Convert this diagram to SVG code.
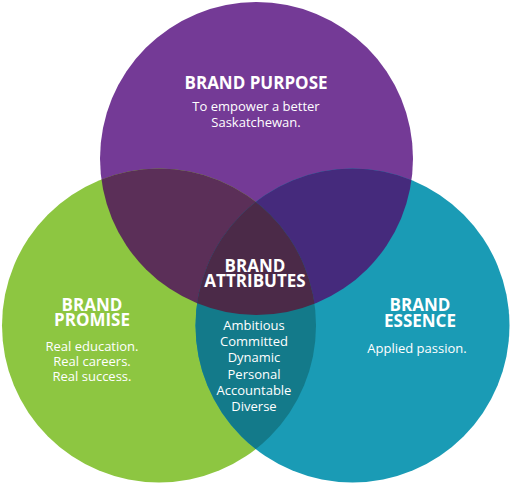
<svg xmlns="http://www.w3.org/2000/svg" width="513" height="498" viewBox="0 0 513 498">
<defs>
<clipPath id="cpP"><circle cx="256.5" cy="158.5" r="156.5"/></clipPath>
<clipPath id="cpG"><circle cx="159" cy="325.5" r="157"/></clipPath>
<clipPath id="cpT"><circle cx="352.5" cy="325.5" r="157"/></clipPath>
</defs>
<style>
.t{font-family:"Open Sans","Liberation Sans",sans-serif;fill:#ffffff;text-anchor:middle}
.h{font-weight:bold;font-size:17px}
.b{font-size:13px}
</style>
<rect width="513" height="498" fill="#ffffff"/>
<g id="purpose">
<circle cx="256.5" cy="158.5" r="156.5" fill="#743a96"/>
</g>
<g id="promise">
<circle cx="159" cy="325.5" r="157" fill="#8dc641"/>
</g>
<g id="essence">
<circle cx="352.5" cy="325.5" r="157" fill="#1a9bb5"/>
</g>
<g id="overlaps">
<g clip-path="url(#cpP)"><circle cx="159" cy="325.5" r="157" fill="#5b2f58"/></g>
<g clip-path="url(#cpP)"><circle cx="352.5" cy="325.5" r="157" fill="#452a7c"/></g>
<g clip-path="url(#cpG)"><circle cx="352.5" cy="325.5" r="157" fill="#137a8a"/></g>
<g clip-path="url(#cpP)"><g clip-path="url(#cpG)"><circle cx="352.5" cy="325.5" r="157" fill="#4b2a48"/></g></g>
</g>
<g id="purpose-text">
<text class="t h" x="256" y="89" font-size="18">BRAND PURPOSE</text>
<text class="t b" x="256" y="111">To empower a better</text>
<text class="t b" x="256" y="127">Saskatchewan.</text>
</g>
<g id="attributes">
<text class="t h" x="255" y="272">BRAND<tspan x="255" dy="15">ATTRIBUTES</tspan></text>
<text class="t b" x="254" y="330">Ambitious</text>
<text class="t b" x="254" y="346">Committed</text>
<text class="t b" x="254" y="362">Dynamic</text>
<text class="t b" x="254" y="379">Personal</text>
<text class="t b" x="254" y="395">Accountable</text>
<text class="t b" x="254" y="411">Diverse</text>
</g>
<g id="promise-text">
<text class="t h" x="92" y="311">BRAND<tspan x="92" dy="15">PROMISE</tspan></text>
<text class="t b" x="92" y="351">Real education.</text>
<text class="t b" x="92" y="366">Real careers.</text>
<text class="t b" x="92" y="381">Real success.</text>
</g>
<g id="essence-text">
<text class="t h" x="420" y="311">BRAND<tspan x="420" dy="16">ESSENCE</tspan></text>
<text class="t b" x="417" y="353">Applied passion.</text>
</g>
</svg>
